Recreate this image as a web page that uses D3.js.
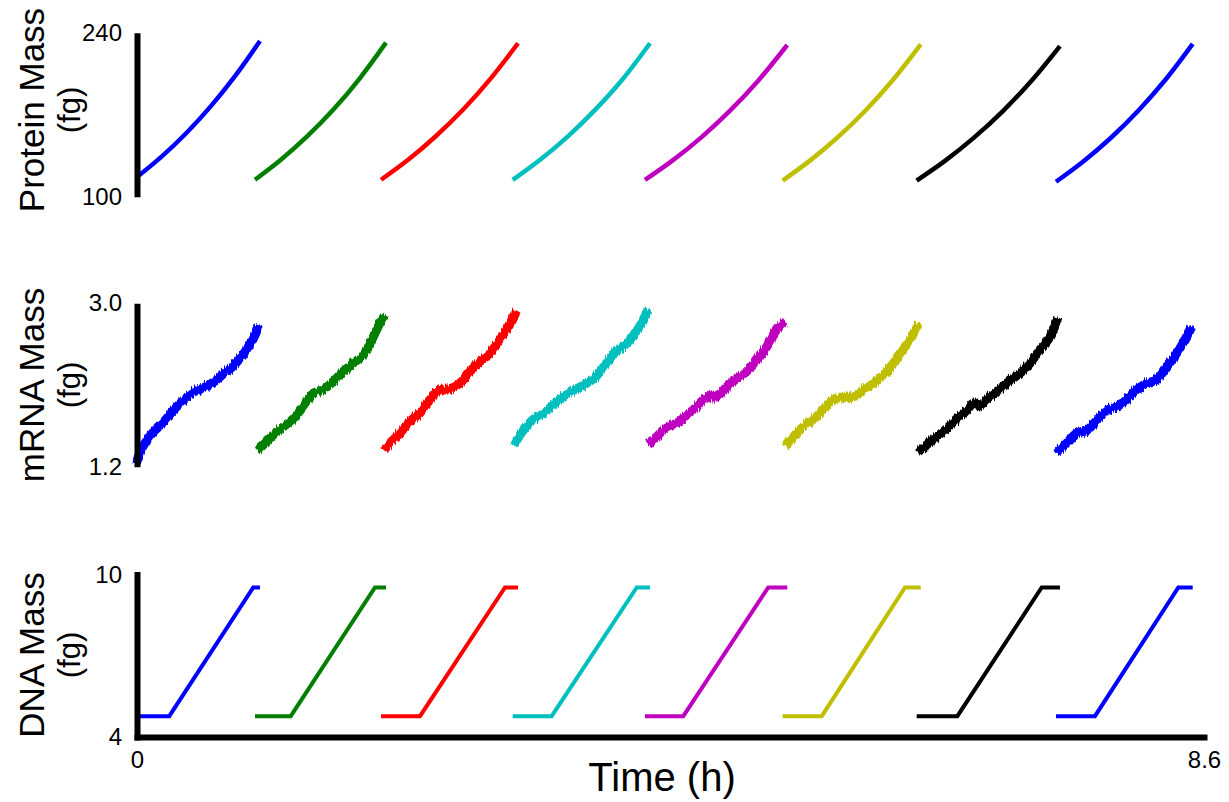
<!DOCTYPE html>
<html>
<head>
<meta charset="utf-8">
<script src="https://cdn.jsdelivr.net/npm/d3@7"></script>
<style>
  html, body { margin: 0; padding: 0; background: #ffffff; }
  svg { display: block; }
  text { font-family: "Liberation Sans", Arial, Helvetica, sans-serif; fill: #000; }
</style>
</head>
<body>
<svg id="chart" width="1229" height="802"></svg>
<script>
// Line colours, one per cell generation
const cellColors = ["#0000ff", "#007f00", "#ff0000", "#00bfbf", "#bf00bf", "#bfbf00", "#000000", "#0000ff"];

// Axis ticks
const timeTicks = [0, 8.6];
const proteinTicks = [100, 240];
const mrnaTicks = [1.2, 3.0];
const dnaTicks = [4, 10];

// Protein mass (fg) per cell: [time (h), mass]
const protein = [
  [[0.000,116.8],[0.198,134.2],[0.396,154.2],[0.594,177.1],[0.793,203.3],[0.991,232.9]],
  [[0.951,114.5],[1.162,131.8],[1.373,151.7],[1.585,174.6],[1.796,201.1],[2.007,231.5]],
  [[1.967,114.5],[2.188,131.7],[2.408,151.6],[2.629,174.4],[2.850,200.8],[3.071,231.0]],
  [[3.028,114.3],[3.249,131.5],[3.471,151.3],[3.692,174.1],[3.914,200.3],[4.135,231.0]],
  [[4.094,114.3],[4.323,131.4],[4.553,151.1],[4.782,173.7],[5.012,199.7],[5.241,229.5]],
  [[5.204,113.8],[5.427,131.0],[5.649,150.8],[5.872,173.6],[6.094,199.8],[6.317,230.0]],
  [[6.284,113.8],[6.515,130.8],[6.746,150.4],[6.977,172.9],[7.208,198.8],[7.439,228.6]],
  [[7.407,112.8],[7.627,130.1],[7.848,150.1],[8.068,173.2],[8.289,199.8],[8.509,230.4]]
];

// mRNA mass (fg) per cell: [time (h), mass]
const mrna = [
  [[0.000,1.24],[0.010,1.31],[0.078,1.49],[0.131,1.58],[0.212,1.69],[0.293,1.82],[0.373,1.93],[0.454,2.02],[0.535,2.07],[0.615,2.13],[0.696,2.22],[0.776,2.31],[0.857,2.44],[0.938,2.62],[0.979,2.75]],
  [[0.970,1.38],[1.018,1.44],[1.099,1.55],[1.179,1.64],[1.260,1.73],[1.340,1.86],[1.421,2.01],[1.502,2.05],[1.582,2.14],[1.663,2.25],[1.743,2.34],[1.824,2.43],[1.904,2.63],[1.958,2.78],[1.999,2.87]],
  [[1.991,1.38],[2.039,1.46],[2.120,1.57],[2.200,1.70],[2.281,1.79],[2.362,1.94],[2.442,2.05],[2.523,2.06],[2.604,2.12],[2.684,2.25],[2.765,2.36],[2.845,2.45],[2.926,2.60],[3.006,2.78],[3.060,2.91]],
  [[3.039,1.44],[3.103,1.58],[3.184,1.71],[3.289,1.80],[3.393,1.93],[3.490,2.02],[3.587,2.09],[3.691,2.18],[3.772,2.32],[3.853,2.46],[3.933,2.54],[4.014,2.67],[4.070,2.79],[4.119,2.93]],
  [[4.121,1.44],[4.189,1.53],[4.270,1.64],[4.350,1.68],[4.431,1.77],[4.511,1.86],[4.592,1.97],[4.672,1.97],[4.753,2.08],[4.834,2.17],[4.914,2.25],[4.995,2.38],[5.075,2.52],[5.156,2.71],[5.223,2.80]],
  [[5.223,1.42],[5.290,1.53],[5.371,1.64],[5.451,1.72],[5.532,1.83],[5.612,1.94],[5.693,1.96],[5.774,1.97],[5.854,2.05],[5.935,2.12],[6.015,2.21],[6.096,2.34],[6.177,2.49],[6.244,2.63],[6.297,2.78]],
  [[6.297,1.35],[6.365,1.44],[6.445,1.53],[6.526,1.62],[6.607,1.73],[6.687,1.82],[6.741,1.90],[6.795,1.88],[6.875,1.97],[6.956,2.06],[7.036,2.15],[7.117,2.23],[7.198,2.34],[7.278,2.49],[7.359,2.63],[7.423,2.84]],
  [[7.413,1.35],[7.493,1.46],[7.574,1.57],[7.655,1.60],[7.735,1.71],[7.816,1.82],[7.896,1.86],[7.977,1.94],[8.057,2.05],[8.138,2.12],[8.219,2.16],[8.299,2.30],[8.380,2.45],[8.447,2.60],[8.501,2.74]]
];

// DNA mass (fg) per cell: birth, replication start, replication end, division
const dna = [
  [[0.000,4.77],[0.260,4.77],[0.937,9.52],[0.991,9.52]],
  [[0.951,4.77],[1.239,4.77],[1.918,9.52],[2.007,9.52]],
  [[1.967,4.77],[2.281,4.77],[2.966,9.52],[3.071,9.52]],
  [[3.028,4.77],[3.342,4.77],[4.028,9.52],[4.135,9.52]],
  [[4.094,4.77],[4.403,4.77],[5.088,9.52],[5.241,9.52]],
  [[5.204,4.77],[5.519,4.77],[6.190,9.52],[6.317,9.52]],
  [[6.284,4.77],[6.612,4.77],[7.292,9.52],[7.439,9.52]],
  [[7.407,4.77],[7.721,4.77],[8.393,9.52],[8.509,9.52]]
];

const svg = d3.select("#chart");

// rough, noisy look for the stochastic mRNA traces (vertical jitter only)
const defs = svg.append("defs");
const flt = defs.append("filter").attr("id", "jitter")
  .attr("x", "-5%").attr("y", "-20%").attr("width", "110%").attr("height", "140%")
  .attr("color-interpolation-filters", "sRGB");
flt.append("feTurbulence").attr("type", "fractalNoise")
  .attr("baseFrequency", "0.7 0.06").attr("numOctaves", 2).attr("seed", 7).attr("result", "noise");
flt.append("feColorMatrix").attr("in", "noise").attr("type", "matrix")
  .attr("values", "0 0 0 0 0.5  0 1 0 0 0  0 0 0 0 0  0 0 0 0 1").attr("result", "disp");
flt.append("feDisplacementMap").attr("in", "SourceGraphic").attr("in2", "disp")
  .attr("scale", 8).attr("xChannelSelector", "R").attr("yChannelSelector", "G");

const x = d3.scaleLinear().domain([0, 8.6]).range([137, 1204]);

const panels = [
  { data: protein, ticks: proteinTicks, domain: [100, 240], range: [196.7, 32.7], label: "Protein Mass", width: 4.5, fmt: d3.format("d"), curve: d3.curveCatmullRom, noisy: false, cy: 110 },
  { data: mrna, ticks: mrnaTicks, domain: [1.2, 3.0], range: [466.7, 303.3], label: "mRNA Mass", width: 9, fmt: d3.format(".1f"), curve: d3.curveCatmullRom, noisy: true, cy: 385 },
  { data: dna, ticks: dnaTicks, domain: [4, 10], range: [737, 574.5], label: "DNA Mass", width: 4, fmt: d3.format("d"), curve: d3.curveLinear, noisy: false, cy: 655 }
];

panels.forEach((p, i) => {
  const y = d3.scaleLinear().domain(p.domain).range(p.range);
  const line = d3.line().x(d => x(d[0])).y(d => y(d[1])).curve(p.curve);

  const g = svg.append("g");
  g.selectAll("path.trace")
    .data(p.data)
    .join("path")
    .attr("class", "trace")
    .attr("d", line)
    .attr("fill", "none")
    .attr("stroke", (d, j) => cellColors[j])
    .attr("stroke-width", p.width)
    .attr("stroke-linecap", "butt")
    .attr("stroke-linejoin", "miter")
    .attr("filter", p.noisy ? "url(#jitter)" : null);

  // left axis: thick spine with end labels only
  const ax = g.append("g")
    .attr("transform", `translate(${x(0)},0)`)
    .call(d3.axisLeft(y).tickValues(p.ticks).tickSize(0).tickSizeOuter(0).tickPadding(15).tickFormat(p.fmt));
  ax.select(".domain").attr("stroke", "#000").attr("stroke-width", 6)
    .attr("stroke-linecap", i === 2 ? "square" : "butt");
  ax.selectAll("text").attr("font-size", 24).attr("font-family", "Liberation Sans, Arial, sans-serif").attr("fill", "#000");

  // y label in two lines
  const lab = svg.append("text")
    .attr("transform", `translate(44,${p.cy}) rotate(-90)`)
    .attr("text-anchor", "middle")
    .attr("font-size", 35);
  lab.append("tspan").attr("x", 0).attr("dy", 0).text(p.label);
  lab.append("tspan").attr("x", 0).attr("dy", 36).attr("font-size", 31).text("(fg)");

  if (i === 2) {
    const bx = g.append("g")
      .attr("transform", `translate(0,${y(4)})`)
      .call(d3.axisBottom(x).tickValues(timeTicks).tickSize(0).tickSizeOuter(0).tickPadding(14).tickFormat(d => d === 0 ? "0" : d3.format(".1f")(d)));
    bx.select(".domain").attr("stroke", "#000").attr("stroke-width", 6).attr("stroke-linecap", "square");
    bx.selectAll("text").attr("font-size", 24).attr("font-family", "Liberation Sans, Arial, sans-serif").attr("fill", "#000");
  }
});

svg.append("text")
  .attr("x", 662)
  .attr("y", 791)
  .attr("text-anchor", "middle")
  .attr("font-size", 40)
  .text("Time (h)");
</script>
</body>
</html>
